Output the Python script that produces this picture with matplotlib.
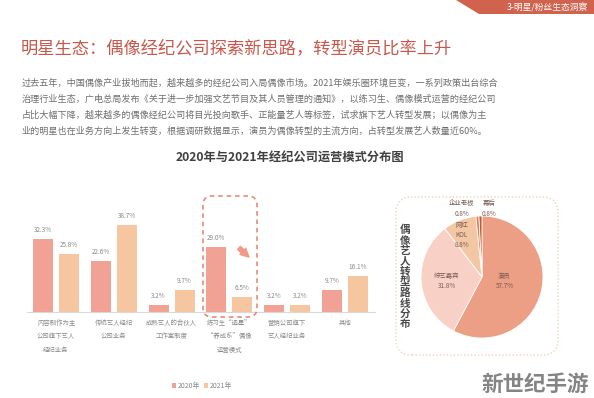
import matplotlib
matplotlib.use("Agg")
import matplotlib.pyplot as plt
import numpy as np
from matplotlib.patches import FancyBboxPatch, Polygon, FancyArrowPatch
from matplotlib.transforms import IdentityTransform

plt.rcParams['font.family'] = ['Noto Sans CJK SC', 'DejaVu Sans']

# ---------------- data ----------------
categories = ["内容制作为主\n公司旗下艺人\n经纪业务", "传统艺人经纪\n公司业务", "成熟艺人的合伙人\n工作室制度",
              "练习生“选星”\n“养成系”偶像\n运营模式", "营销公司旗下\n艺人经纪业务", "其他"]
values_2020 = [32.3, 22.6, 3.2, 29.0, 3.2, 9.7]
values_2021 = [25.8, 38.7, 9.7, 6.5, 3.2, 16.1]
series_names = ["2020年", "2021年"]

pie_labels = ["演员", "综艺嘉宾", "网红\nKOL", "企业老板", "幕后"]
pie_values = [57.7, 31.8, 8.8, 0.8, 0.8]

title = "明星生态：偶像经纪公司探索新思路，转型演员比率上升"
body = ["过去五年，中国偶像产业拔地而起，越来越多的经纪公司入局偶像市场。2021年娱乐圈环境巨变，一系列政策出台综合",
        "治理行业生态，广电总局发布《关于进一步加强文艺节目及其人员管理的通知》，以练习生、偶像模式运营的经纪公司",
        "占比大幅下降，越来越多的偶像经纪公司将目光投向歌手、正能量艺人等标签，试求旗下艺人转型发展；以偶像为主",
        "业的明星也在业务方向上发生转变，根据调研数据显示，演员为偶像转型的主流方向，占转型发展艺人数量近60%。"]
chart_title = "2020年与2021年经纪公司运营模式分布图"
pie_title = "偶像艺人转型路线分布"
banner = "3-明星/粉丝生态洞察"
watermark = "新世纪手游"

# ---------------- layout ----------------
W, H = 594, 398
fig = plt.figure(figsize=(W / 100, H / 100), dpi=100)
fig.patch.set_facecolor("white")

def fx(px):
    return px / W

def fy(py):
    return 1 - py / H

def box(l, t, r, b):
    return [fx(l), fy(b), (r - l) / W, (b - t) / H]

C20 = "#f2a295"
C21 = "#f5c6a0"
TXT = "#8a8a8a"

# banner
ident = IdentityTransform()
def P(x, y):
    return (x, H - y)
fig.patches.append(Polygon([P(456, 0), P(594, 0), P(594, 14), P(479, 14)], closed=True,
                           transform=ident, facecolor="#d0624e", edgecolor="none"))
fig.text(fx(588), fy(7.5), banner, color="white", fontsize=6.3, style="italic",
         ha="right", va="center")

# title & body
fig.text(fx(21), fy(48), title, color="#c9574b", fontsize=12.4, ha="left", va="center")
for i, line in enumerate(body):
    fig.text(fx(22), fy(83 + i * 16), line, color="#6e6e6e", fontsize=6.55, ha="left", va="center")

fig.text(fx(290), fy(157), chart_title, color="#404040", fontsize=8.8, fontweight="bold",
         ha="center", va="center")

# ---------------- bar chart ----------------
ax = fig.add_axes(box(27, 199.5, 375, 312))
x = np.arange(len(categories))
bw = 0.346
off = 0.225
b1 = ax.bar(x - off, values_2020, bw, color=C20, label=series_names[0])
b2 = ax.bar(x + off, values_2021, bw, color=C21, label=series_names[1])
for bars, vals in ((b1, values_2020), (b2, values_2021)):
    for r, v in zip(bars, vals):
        ax.text(r.get_x() + r.get_width() / 2, v + 2.2, f"{v:.1f}%", ha="center", va="bottom",
                fontsize=4.6, color=TXT)
ax.set_xlim(-0.502, 5.519)
ax.set_ylim(0, 50)
for s in ("top", "right", "left"):
    ax.spines[s].set_visible(False)
ax.spines["bottom"].set_color("#d9d9d9")
ax.spines["bottom"].set_linewidth(0.8)
ax.set_yticks([])
ax.set_xticks(x)
ax.set_xticklabels(categories, fontsize=4.6, color=TXT, linespacing=1.9)
ax.tick_params(axis="x", length=0, pad=5)
ax.set_facecolor("none")

leg = fig.legend(handles=[b1, b2], loc="center", bbox_to_anchor=(fx(202), fy(386)), ncol=2,
                 frameon=False, fontsize=5, handlelength=0.55, handleheight=0.55,
                 handletextpad=0.2, columnspacing=0.6)
for t in leg.get_texts():
    t.set_color(TXT)

# dashed highlight box and arrow
fig.patches.append(FancyBboxPatch(P(203, 317), 54, 121, boxstyle="round,pad=0,rounding_size=9",
                                  transform=ident, facecolor="none", edgecolor="#e8806e",
                                  linestyle=(0, (3, 2.5)), linewidth=1.1))
fig.patches.append(FancyArrowPatch(P(237, 246), P(251, 259), transform=ident,
                                   arrowstyle="simple,head_width=6,head_length=6,tail_width=3",
                                   color="#f09a8a", mutation_scale=1))

# ---------------- pie ----------------
fig.patches.append(FancyBboxPatch(P(396, 355), 162, 158, boxstyle="round,pad=0,rounding_size=16",
                                  transform=ident, facecolor="none", edgecolor="#ead6b8",
                                  linestyle=(0, (1, 1.5)), linewidth=1.0))
pax = fig.add_axes(box(421, 216, 543, 338))
pie_colors = ["#ec9f84", "#f9d0c6", "#f3c7a3", "#e47f4e", "#c8552f"]
wedges, _ = pax.pie(pie_values, colors=pie_colors, startangle=90, counterclock=False, radius=1,
                    wedgeprops=dict(edgecolor="white", linewidth=0.6))
pax.set_xlim(-1, 1)
pax.set_ylim(-1, 1)
pax.set_aspect("equal")
pax.axis("off")
label_pos = [(0.37, -0.07), (-0.58, -0.07), (-0.33, 0.69), (-0.33, 1.12), (0.12, 1.12)]
for lab, v, (lx, ly) in zip(pie_labels, pie_values, label_pos):
    pax.text(lx, ly, f"{lab}\n{v:.1f}%", ha="center", va="center", fontsize=4.6,
             color="#7a5a50", linespacing=1.4, clip_on=False)

fig.text(fx(405), fy(277), "\n".join(pie_title), color="#4a4a4a", fontsize=7.6,
         fontweight="bold", ha="center", va="center", linespacing=1.05)

# watermark
fig.text(fx(535), fy(384), watermark, color="#777777", fontsize=15.5, fontweight="bold",
         ha="center", va="center", alpha=0.9)

fig.savefig("out.png", dpi=100, facecolor="white")
